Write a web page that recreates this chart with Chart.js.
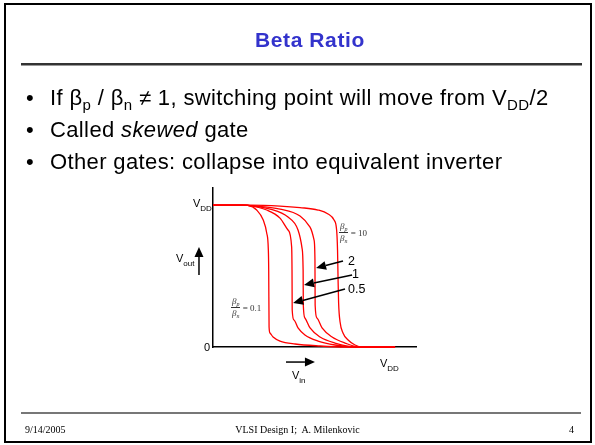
<!DOCTYPE html>
<html>
<head>
<meta charset="utf-8">
<script src="https://cdn.jsdelivr.net/npm/chart.js@4/dist/chart.umd.min.js"></script>
<style>
  html,body{margin:0;padding:0;background:#fff;}
  #page{position:relative;width:595px;height:445px;overflow:hidden;background:#fff;}
  #frame{position:absolute;left:4px;top:3px;width:588px;height:440px;box-sizing:border-box;border:2px solid #000;pointer-events:none;}
  canvas{position:absolute;left:0;top:0;}
  .t{position:absolute;white-space:nowrap;font-family:"Liberation Sans",Arial,sans-serif;color:#000;}
  .title{left:255px;top:28px;font-size:21px;line-height:24px;font-weight:bold;color:#3333CC;letter-spacing:0.6px;}
  .rule1{position:absolute;left:21px;width:561px;top:63px;height:2px;background:#333;}
  .rule2{position:absolute;left:21px;width:561px;top:65px;height:1px;background:#999;}
  .b{font-size:22px;line-height:26px;left:50px;letter-spacing:0.37px;}
  .dot{font-size:22px;line-height:26px;left:26px;}
  .b sub{font-size:15px;vertical-align:-5px;line-height:0;}
  .frule{position:absolute;left:21px;width:560px;top:412px;height:2px;background:#777;}
  .f{font-family:"Liberation Serif","Times New Roman",serif;font-size:10px;line-height:12px;top:424px;}
  .lab{font-size:11px;line-height:12px;}
  .lab sub{font-size:8px;vertical-align:-4px;line-height:0;}
  .num{font-size:12.5px;line-height:14px;}
  .frac{position:absolute;font-family:"Liberation Serif","Times New Roman",serif;font-size:9px;color:#333;display:flex;align-items:center;white-space:nowrap;}
  .fr{display:inline-flex;flex-direction:column;align-items:center;font-style:italic;line-height:9px;}
  .fr .n{border-bottom:1px solid #333;padding:0 1px 1px 1px;}
  .fr .d{padding-top:1px;}
  .fr sub{font-size:6px;vertical-align:-2px;line-height:0;}
</style>
</head>
<body>
<div id="page">
  <canvas id="c" width="595" height="445"></canvas>
  <div class="t title">Beta Ratio</div>
  <div class="rule1"></div><div class="rule2"></div>
  <div class="t dot" style="top:85px;">•</div>
  <div class="t b" style="top:85px;">If β<sub>p</sub> / β<sub>n</sub> ≠ 1, switching point will move from V<sub>DD</sub>/2</div>
  <div class="t dot" style="top:117px;">•</div>
  <div class="t b" style="top:117px;">Called <i>skewed</i> gate</div>
  <div class="t dot" style="top:149px;">•</div>
  <div class="t b" style="top:149px;">Other gates: collapse into equivalent inverter</div>

  <div class="t lab" style="left:193px;top:197px;">V<sub>DD</sub></div>
  <div class="t lab" style="left:204px;top:341px;">0</div>
  <div class="t lab" style="left:176px;top:252px;">V<sub>out</sub></div>
  <div class="t lab" style="left:292px;top:369px;">V<sub>in</sub></div>
  <div class="t lab" style="left:380px;top:357px;">V<sub>DD</sub></div>

  <div class="t num" style="left:348px;top:254px;">2</div>
  <div class="t num" style="left:352px;top:267px;">1</div>
  <div class="t num" style="left:348px;top:282px;">0.5</div>

  <div class="frac" style="left:339px;top:222px;"><span class="fr"><span class="n">β<sub>p</sub></span><span class="d">β<sub>n</sub></span></span><span>&nbsp;= 10</span></div>
  <div class="frac" style="left:231px;top:297px;"><span class="fr"><span class="n">β<sub>p</sub></span><span class="d">β<sub>n</sub></span></span><span>&nbsp;= 0.1</span></div>

  <div class="frule"></div>
  <div class="t f" style="left:25px;">9/14/2005</div>
  <div class="t f" style="left:0;width:595px;text-align:center;">VLSI Design I;&nbsp; A. Milenkovic</div>
  <div class="t f" style="left:569px;">4</div>
  <div id="frame"></div>
</div>
<script>
// Voltages as fractions of VDD (Vin on x, Vout on y)
const vin_r01 = [0, 0.165, 0.191, 0.240, 0.276, 0.295, 0.304, 0.306, 0.308, 0.313, 0.330, 0.368, 0.451, 0.588, 0.725, 1];
const vout_r01 = [1, 1, 0.998, 0.965, 0.894, 0.803, 0.683, 0.542, 0.141, 0.099, 0.070, 0.042, 0.021, 0.007, 0, 0];

const vin_r05 = [0, 0.165, 0.191, 0.295, 0.368, 0.412, 0.432, 0.434, 0.435, 0.445, 0.467, 0.505, 0.577, 0.670, 0.780, 1];
const vout_r05 = [1, 1, 0.998, 0.965, 0.908, 0.824, 0.704, 0.542, 0.261, 0.190, 0.134, 0.085, 0.042, 0.014, 0, 0];

const vin_r1 = [0, 0.165, 0.187, 0.313, 0.412, 0.467, 0.489, 0.495, 0.496, 0.505, 0.533, 0.588, 0.670, 0.791, 1];
const vout_r1 = [1, 1, 0.999, 0.972, 0.915, 0.824, 0.697, 0.542, 0.296, 0.204, 0.134, 0.070, 0.028, 0, 0];

const vin_r2 = [0, 0.165, 0.203, 0.368, 0.478, 0.533, 0.555, 0.560, 0.561, 0.571, 0.599, 0.654, 0.725, 0.808, 1];
const vout_r2 = [1, 1, 0.996, 0.972, 0.923, 0.845, 0.754, 0.613, 0.296, 0.204, 0.134, 0.070, 0.028, 0, 0];

const vin_r10 = [0, 0.203, 0.368, 0.478, 0.577, 0.632, 0.665, 0.679, 0.684, 0.687, 0.690, 0.698, 0.714, 0.742, 0.780, 0.819, 1];
const vout_r10 = [1, 1, 0.993, 0.982, 0.965, 0.937, 0.894, 0.824, 0.683, 0.472, 0.310, 0.176, 0.099, 0.049, 0.014, 0, 0];

const ratios = ['0.1', '0.5', '1', '2', '10'];
const vins = [vin_r01, vin_r05, vin_r1, vin_r2, vin_r10];
const vouts = [vout_r01, vout_r05, vout_r1, vout_r2, vout_r10];

// Annotation arrows [tailX, tailY, headX, headY] in the same units
const arrows = [
  [0.714, 0.606, 0.566, 0.556],
  [0.764, 0.507, 0.500, 0.437],
  [0.725, 0.408, 0.440, 0.310],
  [-0.077, 0.507, -0.077, 0.704],
  [0.401, -0.106, 0.560, -0.106]
];

const datasets = ratios.map((r, i) => ({
  label: 'βp/βn = ' + r,
  data: vins[i].map((x, k) => ({x: x, y: vouts[i][k]})),
  showLine: true,
  borderColor: '#ff0000',
  borderWidth: 1.3,
  pointRadius: 0,
  cubicInterpolationMode: 'monotone',
  fill: false,
  clip: false
}));

const arrowPlugin = {
  id: 'arrows',
  afterDraw(chart) {
    const ctx = chart.ctx, xs = chart.scales.x, ys = chart.scales.y;
    ctx.save();
    ctx.strokeStyle = '#000';
    ctx.fillStyle = '#000';
    ctx.lineWidth = 1.5;
    arrows.forEach(a => {
      const x1 = xs.getPixelForValue(a[0]), y1 = ys.getPixelForValue(a[1]);
      const x2 = xs.getPixelForValue(a[2]), y2 = ys.getPixelForValue(a[3]);
      const ang = Math.atan2(y2 - y1, x2 - x1);
      const L = 10, W = 4.5;
      const bx = x2 - L * Math.cos(ang), by = y2 - L * Math.sin(ang);
      ctx.beginPath();
      ctx.moveTo(x1, y1);
      ctx.lineTo(bx, by);
      ctx.stroke();
      ctx.beginPath();
      ctx.moveTo(x2, y2);
      ctx.lineTo(bx + W * Math.sin(ang), by - W * Math.cos(ang));
      ctx.lineTo(bx - W * Math.sin(ang), by + W * Math.cos(ang));
      ctx.closePath();
      ctx.fill();
    });
    ctx.restore();
  }
};

new Chart(document.getElementById('c'), {
  type: 'scatter',
  data: {datasets: datasets},
  options: {
    responsive: false,
    animation: false,
    layout: {padding: {left: 213, top: 188, right: 179, bottom: 98}},
    plugins: {legend: {display: false}, tooltip: {enabled: false}},
    scales: {
      x: {
        type: 'linear', min: 0, max: 1.115,
        ticks: {display: false},
        grid: {display: false, drawTicks: false},
        border: {display: true, color: '#000', width: 1.5}
      },
      y: {
        type: 'linear', min: 0, max: 1.12,
        ticks: {display: false},
        grid: {display: false, drawTicks: false},
        border: {display: true, color: '#000', width: 1.5}
      }
    }
  },
  plugins: [arrowPlugin]
});
</script>
</body>
</html>
